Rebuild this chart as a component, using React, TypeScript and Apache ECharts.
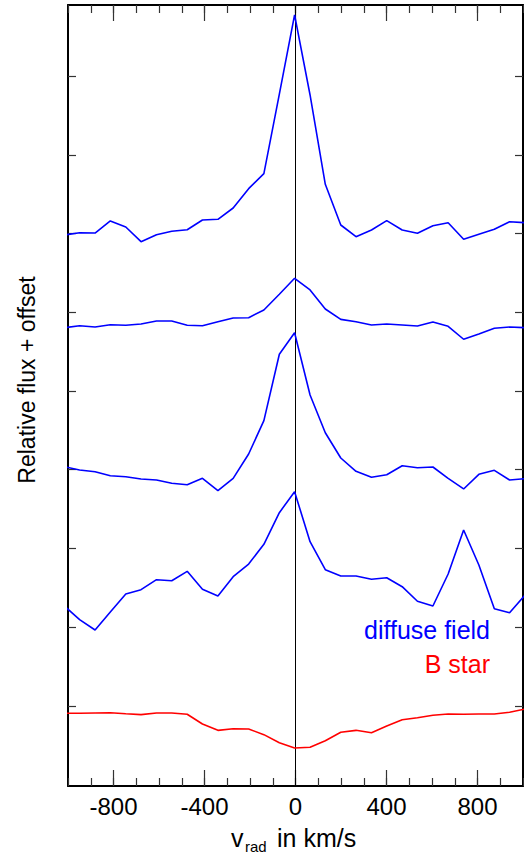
import React, { useEffect, useRef } from "react";
import * as echarts from "echarts";

// Radial velocities (km/s) of the sampled points
const velocities = [
  -1016, -949, -881, -814, -746, -679, -611, -544, -476, -409, -341, -274, -206, -139, -71,
  -4, 64, 131, 199, 266, 334, 401, 469, 536, 604, 671, 739, 806, 874, 941, 1009,
];

// Diffuse field spectra (relative flux + offset), top to bottom
const diffuse1 = [
  5.981, 6.01, 6.006, 6.159, 6.083, 5.896, 5.985, 6.028, 6.048, 6.171, 6.18, 6.324, 6.569, 6.76, 7.771,
  8.775, 7.759, 6.625, 6.108, 5.959, 6.044, 6.163, 6.044, 6.003, 6.099, 6.137, 5.926, 5.99, 6.053, 6.15, 6.137,
];
const diffuse2 = [
  4.804, 4.829, 4.813, 4.842, 4.834, 4.851, 4.889, 4.889, 4.834, 4.829, 4.88, 4.927, 4.931, 5.029, 5.228,
  5.431, 5.283, 5.041, 4.91, 4.88, 4.838, 4.851, 4.838, 4.825, 4.876, 4.822, 4.657, 4.724, 4.796, 4.813, 4.804,
];
const diffuse3 = [
  3.039, 2.997, 2.975, 2.924, 2.912, 2.883, 2.87, 2.828, 2.81, 2.891, 2.734, 2.891, 3.2, 3.623, 4.466,
  4.74, 3.949, 3.47, 3.149, 2.98, 2.904, 2.937, 3.051, 3.026, 3.035, 2.891, 2.756, 2.942, 2.993, 2.87, 2.886,
];
const diffuse4 = [
  1.27, 1.096, 0.965, 1.194, 1.422, 1.477, 1.604, 1.591, 1.71, 1.482, 1.397, 1.642, 1.803, 2.053, 2.455,
  2.721, 2.086, 1.731, 1.651, 1.651, 1.609, 1.629, 1.515, 1.33, 1.27, 1.676, 2.235, 1.79, 1.236, 1.185, 1.41,
];
// B star spectrum
const bStar = [
  -0.093, -0.093, -0.089, -0.085, -0.098, -0.11, -0.089, -0.089, -0.105, -0.229, -0.309, -0.288, -0.292, -0.364, -0.466,
  -0.533, -0.524, -0.441, -0.334, -0.309, -0.339, -0.254, -0.174, -0.149, -0.118, -0.102, -0.105, -0.102, -0.102, -0.08, -0.038,
];

const xMajorTicks = [-800, -400, 0, 400, 800];
const yTicks = [0, 1, 2, 3, 4, 5, 6, 7, 8];
const X_MIN = -1000;
const X_MAX = 1000;
const Y_MIN = -1.0159;
const Y_MAX = 8.9016;

const FONT = "'Liberation Sans', Arial, Helvetica, sans-serif";

export default function App() {
  const ref = useRef<HTMLDivElement>(null);

  useEffect(() => {
    if (!ref.current) return;
    const chart = echarts.init(ref.current, undefined, { renderer: "svg" });

    const pts = (arr: number[]) => velocities.map((v, i) => [v, arr[i]]);
    const lineSeries = (arr: number[], color: string) => ({
      type: "line",
      data: pts(arr),
      xAxisIndex: 0,
      yAxisIndex: 0,
      showSymbol: false,
      symbol: "none",
      clip: true,
      lineStyle: { color, width: 1.6 },
      z: 3,
    });

    const majorX = (position: "top" | "bottom") => ({
      type: "value",
      position,
      min: X_MIN,
      max: X_MAX,
      axisLine: { show: true, onZero: false, lineStyle: { color: "#000", width: 2 } },
      axisTick: {
        show: true,
        inside: true,
        length: 16,
        customValues: xMajorTicks,
        lineStyle: { color: "#333", width: 1.2 },
      },
      axisLabel:
        position === "bottom"
          ? {
              show: true,
              customValues: xMajorTicks,
              color: "#000",
              fontSize: 24,
              fontFamily: FONT,
              margin: 8,
            }
          : { show: false },
      splitLine: { show: false },
    });

    const minorX = (position: "top" | "bottom") => ({
      type: "value",
      position,
      min: X_MIN,
      max: X_MAX,
      interval: 100,
      axisLine: { show: false, onZero: false },
      axisTick: { show: true, inside: true, length: 8, lineStyle: { color: "#333", width: 1.2 } },
      axisLabel: { show: false },
      splitLine: { show: false },
    });

    const yAx = (position: "left" | "right") => ({
      type: "value",
      position,
      min: Y_MIN,
      max: Y_MAX,
      axisLine: { show: true, onZero: false, lineStyle: { color: "#000", width: 2 } },
      axisTick: {
        show: true,
        inside: true,
        length: 8,
        customValues: yTicks,
        lineStyle: { color: "#333", width: 1.2 },
      },
      axisLabel: { show: false },
      splitLine: { show: false },
    });

    const option = {
      animation: false,
      backgroundColor: "#fff",
      grid: { left: 68, right: 1, top: 5, bottom: 69, containLabel: false },
      xAxis: [majorX("bottom"), minorX("bottom"), majorX("top"), minorX("top")],
      yAxis: [yAx("left"), yAx("right")],
      series: [
        {
          ...lineSeries(diffuse1, "#0000ff"),
          markLine: {
            silent: true,
            symbol: ["none", "none"],
            label: { show: false },
            lineStyle: { color: "#000", width: 1, type: "solid" },
            data: [{ xAxis: 0 }],
            z: 2,
          },
        },
        lineSeries(diffuse2, "#0000ff"),
        lineSeries(diffuse3, "#0000ff"),
        lineSeries(diffuse4, "#0000ff"),
        lineSeries(bStar, "#ff0000"),
      ],
      graphic: [
        {
          type: "text",
          x: 490,
          y: 630.3,
          style: {
            text: "diffuse field",
            fill: "#0000ff",
            font: `25px ${FONT}`,
            align: "right",
            verticalAlign: "middle",
          },
        },
        {
          type: "text",
          x: 490,
          y: 663.6,
          style: {
            text: "B star",
            fill: "#ff0000",
            font: `25px ${FONT}`,
            align: "right",
            verticalAlign: "middle",
          },
        },
        {
          type: "text",
          x: 27,
          y: 380,
          rotation: Math.PI / 2,
          style: {
            text: "Relative flux + offset",
            fill: "#000",
            font: `23px ${FONT}`,
            align: "center",
            verticalAlign: "middle",
          },
        },
        {
          type: "text",
          x: 231,
          y: 838.2,
          style: { text: "v", fill: "#000", font: `25px ${FONT}`, align: "left", verticalAlign: "middle" },
        },
        {
          type: "text",
          x: 245,
          y: 846.5,
          style: { text: "rad", fill: "#000", font: `15px ${FONT}`, align: "left", verticalAlign: "middle" },
        },
        {
          type: "text",
          x: 277,
          y: 838.2,
          style: { text: "in km/s", fill: "#000", font: `25px ${FONT}`, align: "left", verticalAlign: "middle" },
        },
      ],
    };

    chart.setOption(option as any);
    return () => chart.dispose();
  }, []);

  return (
    <div
      ref={ref}
      style={{ position: "fixed", left: 0, top: 0, width: 524, height: 855, background: "#fff" }}
    />
  );
}
